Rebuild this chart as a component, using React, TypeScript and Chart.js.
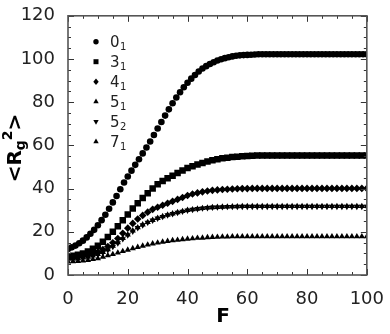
import { useEffect, useRef } from 'react';
import { Chart, registerables } from 'chart.js';

Chart.register(...registerables);

const FONT = "'DejaVu Sans', 'Noto Sans', sans-serif";

// Force F values for the 0_1 series (denser sampling)
const F_01 = [
  0, 1.25, 2.5, 3.75, 5, 6.25, 7.5, 8.75, 10, 11.25,
  12.5, 13.75, 15, 16.25, 17.5, 18.75, 20, 21.25, 22.5, 23.75,
  25, 26.25, 27.5, 28.75, 30, 31.25, 32.5, 33.75, 35, 36.25,
  37.5, 38.75, 40, 41.25, 42.5, 43.75, 45, 46.25, 47.5, 48.75,
  50, 51.25, 52.5, 53.75, 55, 56.25, 57.5, 58.75, 60, 61.25,
  62.5, 63.75, 65, 66.25, 67.5, 68.75, 70, 71.25, 72.5, 73.75,
  75, 76.25, 77.5, 78.75, 80, 81.25, 82.5, 83.75, 85, 86.25,
  87.5, 88.75, 90, 91.25, 92.5, 93.75, 95, 96.25, 97.5, 98.75,
  100,
];

const S_0_1 = [
  12.0, 12.8, 13.6, 14.7, 15.9, 17.4, 19.1, 20.9, 23.0, 25.4,
  27.9, 30.7, 33.6, 36.6, 39.7, 42.8, 45.6, 48.3, 51.0, 53.6,
  56.3, 59.0, 61.8, 64.8, 67.8, 70.8, 73.8, 76.7, 79.5, 82.2,
  84.6, 86.9, 89.0, 90.9, 92.6, 94.2, 95.6, 96.7, 97.7, 98.5,
  99.3, 99.9, 100.4, 100.8, 101.2, 101.5, 101.7, 101.8, 101.9, 102.0,
  102.1, 102.2, 102.2, 102.2, 102.2, 102.2, 102.2, 102.2, 102.2, 102.2,
  102.2, 102.2, 102.2, 102.2, 102.2, 102.2, 102.2, 102.2, 102.2, 102.2,
  102.2, 102.2, 102.2, 102.2, 102.2, 102.2, 102.2, 102.2, 102.2, 102.2,
  102.2,
];

// Force F values for the other series
const F = [
  0, 1.67, 3.33, 5, 6.67, 8.33, 10, 11.67, 13.33, 15,
  16.67, 18.33, 20, 21.67, 23.33, 25, 26.67, 28.33, 30, 31.67,
  33.33, 35, 36.67, 38.33, 40, 41.67, 43.33, 45, 46.67, 48.33,
  50, 51.67, 53.33, 55, 56.67, 58.33, 60, 61.67, 63.33, 65,
  66.67, 68.33, 70, 71.67, 73.33, 75, 76.67, 78.33, 80, 81.67,
  83.33, 85, 86.67, 88.33, 90, 91.67, 93.33, 95, 96.67, 98.33,
  100,
];

const S_3_1 = [
  8.5, 8.9, 9.4, 10.0, 10.9, 12.2, 13.5, 15.4, 17.6, 20.0,
  22.6, 25.3, 28.0, 30.8, 33.2, 35.6, 37.9, 40.1, 42.0, 43.5,
  44.8, 46.0, 47.2, 48.4, 49.5, 50.4, 51.2, 51.9, 52.6, 53.1,
  53.6, 54.0, 54.3, 54.6, 54.8, 55.0, 55.1, 55.2, 55.3, 55.3,
  55.3, 55.3, 55.3, 55.3, 55.3, 55.3, 55.3, 55.3, 55.3, 55.3,
  55.3, 55.3, 55.3, 55.3, 55.3, 55.3, 55.3, 55.3, 55.3, 55.3,
  55.3,
];

const S_4_1 = [
  8.0, 8.1, 8.4, 8.7, 9.2, 9.8, 10.7, 11.8, 13.2, 14.9,
  16.9, 19.3, 21.7, 23.9, 25.9, 27.6, 29.1, 30.4, 31.4, 32.3,
  33.2, 34.1, 35.0, 35.9, 36.8, 37.5, 38.0, 38.5, 38.9, 39.2,
  39.4, 39.6, 39.7, 39.8, 39.9, 40.0, 40.0, 40.1, 40.1, 40.1,
  40.1, 40.1, 40.1, 40.1, 40.1, 40.1, 40.1, 40.1, 40.1, 40.1,
  40.1, 40.1, 40.1, 40.1, 40.1, 40.1, 40.1, 40.1, 40.1, 40.1,
  40.1,
];

const S_5_1 = [
  7.5, 7.6, 7.7, 8.0, 8.4, 8.9, 9.6, 10.6, 11.8, 13.4,
  15.1, 17.0, 18.7, 20.5, 22.0, 23.3, 24.4, 25.4, 26.3, 27.1,
  27.8, 28.4, 29.0, 29.5, 30.0, 30.3, 30.6, 30.9, 31.1, 31.3,
  31.4, 31.5, 31.6, 31.7, 31.7, 31.8, 31.8, 31.8, 31.8, 31.8,
  31.8, 31.8, 31.8, 31.8, 31.8, 31.8, 31.8, 31.8, 31.8, 31.8,
  31.8, 31.8, 31.8, 31.8, 31.8, 31.8, 31.8, 31.8, 31.8, 31.8,
  31.8,
];

const S_5_2 = [
  7.3, 7.4, 7.6, 7.9, 8.3, 8.8, 9.5, 10.4, 11.6, 13.1,
  14.8, 16.7, 18.5, 20.2, 21.8, 23.1, 24.3, 25.3, 26.2, 27.0,
  27.7, 28.3, 28.9, 29.4, 29.9, 30.3, 30.6, 30.9, 31.1, 31.3,
  31.4, 31.5, 31.6, 31.6, 31.7, 31.7, 31.7, 31.7, 31.7, 31.7,
  31.7, 31.7, 31.7, 31.7, 31.7, 31.7, 31.7, 31.7, 31.7, 31.7,
  31.7, 31.7, 31.7, 31.7, 31.7, 31.7, 31.7, 31.7, 31.7, 31.7,
  31.7,
];

const S_7_1 = [
  6.2, 6.3, 6.4, 6.6, 6.9, 7.3, 7.7, 8.3, 9.0, 9.6,
  10.3, 11.0, 11.6, 12.3, 12.9, 13.5, 14.0, 14.5, 14.9, 15.3,
  15.7, 16.0, 16.2, 16.5, 16.7, 16.9, 17.1, 17.2, 17.4, 17.5,
  17.6, 17.7, 17.7, 17.8, 17.8, 17.8, 17.8, 17.8, 17.8, 17.8,
  17.8, 17.8, 17.8, 17.8, 17.8, 17.8, 17.8, 17.8, 17.8, 17.8,
  17.8, 17.8, 17.8, 17.8, 17.8, 17.8, 17.8, 17.8, 17.8, 17.8,
  17.8,
];

// Legend labels: [main, subscript]
const LEGEND_MAIN = ['0', '3', '4', '5', '5', '7'];
const LEGEND_SUB = ['1', '1', '1', '1', '2', '1'];
const MARKERS = ['circle', 'rect', 'rectRot', 'triangle', 'triangleDown', 'triangle'];

const X_TITLE = 'F';
const Y_TITLE_PARTS = ['<R', 'g', '2', '>'];

function drawMarker(ctx: CanvasRenderingContext2D, kind: string, x: number, y: number, r: number) {
  ctx.beginPath();
  if (kind === 'circle') {
    ctx.arc(x, y, r, 0, Math.PI * 2);
  } else if (kind === 'rect') {
    ctx.rect(x - r, y - r, 2 * r, 2 * r);
  } else if (kind === 'rectRot') {
    ctx.moveTo(x, y - r * 1.2);
    ctx.lineTo(x + r, y);
    ctx.lineTo(x, y + r * 1.2);
    ctx.lineTo(x - r, y);
  } else if (kind === 'triangle') {
    ctx.moveTo(x, y - r * 1.15);
    ctx.lineTo(x + r, y + r * 0.6);
    ctx.lineTo(x - r, y + r * 0.6);
  } else if (kind === 'triangleDown') {
    ctx.moveTo(x, y + r * 1.15);
    ctx.lineTo(x + r, y - r * 0.6);
    ctx.lineTo(x - r, y - r * 0.6);
  }
  ctx.closePath();
  ctx.fill();
}

const decor = {
  id: 'decor',
  afterDraw(chart: any) {
    const ctx: CanvasRenderingContext2D = chart.ctx;
    const { left, right, top, bottom } = chart.chartArea;
    const xs = chart.scales.x;
    const ys = chart.scales.y;
    ctx.save();
    // ticks (inward, all four sides)
    ctx.strokeStyle = '#333';
    ctx.lineWidth = 1;
    for (let v = 0; v <= 100; v += 5) {
      const p = Math.round(xs.getPixelForValue(v)) + 0.5;
      const len = v % 20 === 0 ? 6 : 3;
      ctx.beginPath();
      ctx.moveTo(p, bottom);
      ctx.lineTo(p, bottom - len);
      ctx.moveTo(p, top);
      ctx.lineTo(p, top + len);
      ctx.stroke();
    }
    for (let v = 0; v <= 120; v += 5) {
      const p = Math.round(ys.getPixelForValue(v)) + 0.5;
      const len = v % 20 === 0 ? 6 : 3;
      ctx.beginPath();
      ctx.moveTo(left, p);
      ctx.lineTo(left + len, p);
      ctx.moveTo(right, p);
      ctx.lineTo(right - len, p);
      ctx.stroke();
    }
    // frame
    ctx.strokeStyle = '#555';
    ctx.lineWidth = 1.6;
    ctx.strokeRect(left, top, right - left, bottom - top);

    // legend
    for (let i = 0; i < LEGEND_MAIN.length; i++) {
      const y = 41.7 + i * 20;
      ctx.fillStyle = '#000';
      drawMarker(ctx, MARKERS[i], 96, y, MARKERS[i] === 'rect' ? 2.5 : 2.7);
      ctx.fillStyle = '#222';
      ctx.textBaseline = 'alphabetic';
      ctx.textAlign = 'left';
      ctx.font = `15px ${FONT}`;
      const base = y + 5.3;
      ctx.fillText(LEGEND_MAIN[i], 110, base);
      const w = ctx.measureText(LEGEND_MAIN[i]).width;
      ctx.font = `10px ${FONT}`;
      ctx.fillText(LEGEND_SUB[i], 110 + w + 0.5, base + 3);
    }

    // x title
    ctx.fillStyle = '#000';
    ctx.font = `bold 20px ${FONT}`;
    ctx.textAlign = 'center';
    ctx.textBaseline = 'alphabetic';
    ctx.fillText(X_TITLE, 223, 322);

    // y title
    ctx.save();
    ctx.translate(20.5, 148);
    ctx.rotate(-Math.PI / 2);
    const parts = [
      { t: Y_TITLE_PARTS[0], s: 20, dy: 0 },
      { t: Y_TITLE_PARTS[1], s: 14, dy: 4 },
      { t: Y_TITLE_PARTS[2], s: 14, dy: -9 },
      { t: Y_TITLE_PARTS[3], s: 20, dy: 0 },
    ];
    let total = 0;
    const widths: number[] = [];
    for (const p of parts) {
      ctx.font = `bold ${p.s}px ${FONT}`;
      const w = ctx.measureText(p.t).width;
      widths.push(w);
      total += w;
    }
    let cx = -total / 2;
    ctx.textAlign = 'left';
    parts.forEach((p, i) => {
      ctx.font = `bold ${p.s}px ${FONT}`;
      ctx.fillText(p.t, cx, p.dy);
      cx += widths[i];
    });
    ctx.restore();
    ctx.restore();
  },
};

export default function App() {
  const ref = useRef<HTMLCanvasElement>(null);
  useEffect(() => {
    if (!ref.current) return;
    const mk = (xs: number[], s: number[]) => xs.map((x, i) => ({ x, y: s[i] }));
    const base = {
      showLine: false,
      pointBackgroundColor: '#000',
      pointBorderColor: '#000',
      pointBorderWidth: 0,
      clip: 0,
    };
    const chart = new Chart(ref.current, {
      type: 'scatter',
      data: {
        datasets: [
          { ...base, label: '0₁', data: mk(F_01, S_0_1), pointStyle: 'circle', pointRadius: 3.3 },
          { ...base, label: '3₁', data: mk(F, S_3_1), pointStyle: 'rect', pointRadius: 4.6 },
          { ...base, label: '4₁', data: mk(F, S_4_1), pointStyle: 'rectRot', pointRadius: 3.8 },
          { ...base, label: '5₁', data: mk(F, S_5_1), pointStyle: 'triangle', pointRadius: 3.6 },
          { ...base, label: '5₂', data: mk(F, S_5_2), pointStyle: 'triangle', pointRotation: 180, pointRadius: 3.6 },
          { ...base, label: '7₁', data: mk(F, S_7_1), pointStyle: 'triangle', pointRadius: 3.6 },
        ] as any,
      },
      options: {
        animation: false,
        responsive: true,
        maintainAspectRatio: false,
        events: [],
        layout: { padding: { top: 15, right: 22, left: 0, bottom: 0 } },
        plugins: { legend: { display: false }, tooltip: { enabled: false } },
        scales: {
          x: {
            type: 'linear',
            min: 0,
            max: 100,
            grid: { display: false },
            border: { display: false },
            ticks: { stepSize: 20, font: { family: FONT, size: 18 }, color: '#222', padding: 6, maxRotation: 0 },
            afterFit: (s: any) => { s.height = 59; },
          },
          y: {
            type: 'linear',
            min: 0,
            max: 120,
            grid: { display: false },
            border: { display: false },
            ticks: { stepSize: 20, font: { family: FONT, size: 18 }, color: '#222', padding: 5 },
            afterFit: (s: any) => { s.width = 68; },
          },
        },
      } as any,
      plugins: [decor],
    });
    return () => chart.destroy();
  }, []);
  return (
    <div style={{ position: 'fixed', left: 0, top: 0, width: 390, height: 334, background: '#fff' }}>
      <canvas ref={ref} />
    </div>
  );
}
